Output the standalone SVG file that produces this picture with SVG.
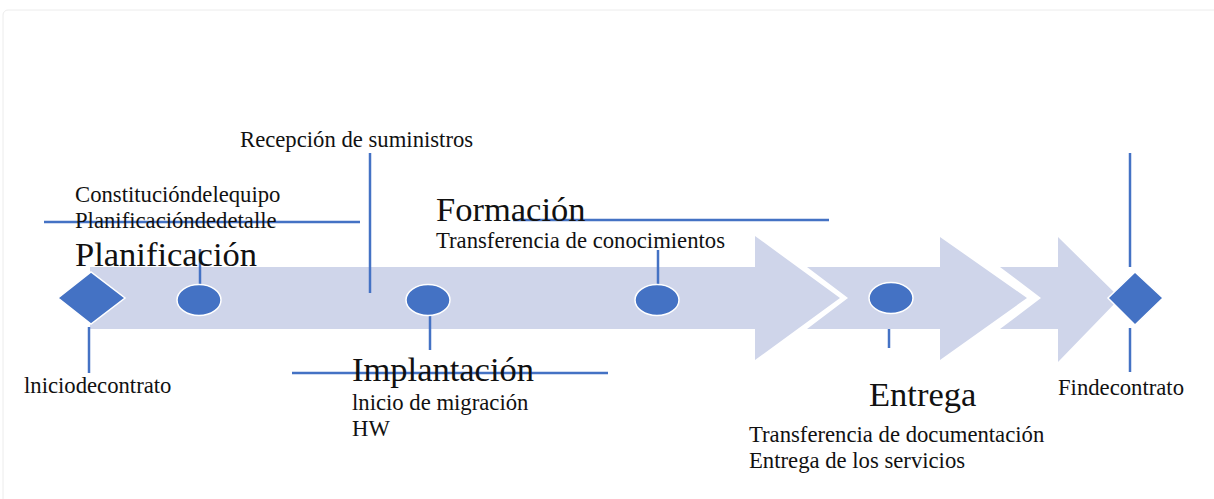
<svg xmlns="http://www.w3.org/2000/svg" width="1214" height="499" viewBox="0 0 1214 499">
<style>
.arrow{fill:#CFD5EA}
.mark{fill:#4472C4;stroke:#ffffff;stroke-width:1.5}
.ln{stroke:#4472C4;stroke-width:2.5;fill:none}
text{font-family:"Liberation Serif","Times New Roman",serif;fill:#111}
.s{font-size:22.7px}
.l{font-size:34.5px}
</style>
<rect x="0" y="0" width="1214" height="499" fill="#ffffff"/>
<rect x="3" y="10" width="1230" height="500" rx="5" fill="none" stroke="#ececec" stroke-width="1"/>
<g id="timeline">
<polygon class="arrow" points="90,267 755,267 755,236 840,298 755,360 755,329 90,329"/>
<polygon class="arrow" points="807,267 940,267 940,237 1027,298 940,360 940,329 807,329 848,298"/>
<polygon class="arrow" points="1000,267 1058,267 1058,237 1120,298 1058,362 1058,329 1000,329 1041,298"/>
</g>
<g id="connectors">
<line class="ln" x1="89" y1="327" x2="89" y2="373"/>
<line class="ln" x1="200" y1="249" x2="200" y2="286"/>
<line class="ln" x1="44" y1="222" x2="360" y2="222"/>
<line class="ln" x1="370" y1="153" x2="370" y2="293"/>
<line class="ln" x1="430" y1="315" x2="430" y2="350"/>
<line class="ln" x1="292" y1="373" x2="608" y2="373"/>
<line class="ln" x1="513" y1="220" x2="829" y2="220"/>
<line class="ln" x1="658" y1="250" x2="658" y2="287"/>
<line class="ln" x1="889" y1="329" x2="889" y2="348"/>
<line class="ln" x1="1130" y1="153" x2="1130" y2="267"/>
<line class="ln" x1="1130" y1="328" x2="1130" y2="372"/>
</g>
<g id="inicio">
<polygon class="mark" points="58,298 91,272 125,298 91,324"/>
<text class="s" x="24" y="393">lniciodecontrato</text>
</g>
<g id="planificacion">
<ellipse class="mark" cx="199" cy="300" rx="22" ry="15.5"/>
<text class="s" x="75" y="202">Constitucióndelequipo</text>
<text class="s" x="75" y="228">Planificacióndedetalle</text>
<text class="l" x="75" y="266">Planificación</text>
</g>
<g id="recepcion">
<text class="s" x="240" y="147">Recepción de suministros</text>
</g>
<g id="implantacion">
<ellipse class="mark" cx="428" cy="300" rx="22" ry="15.5"/>
<text class="l" x="352" y="381">Implantación</text>
<text class="s" x="352" y="410">lnicio de migración</text>
<text class="s" x="352" y="436">HW</text>
</g>
<g id="formacion">
<ellipse class="mark" cx="657" cy="300" rx="22" ry="15.5"/>
<text class="l" x="436" y="221">Formación</text>
<text class="s" x="436" y="248">Transferencia de conocimientos</text>
</g>
<g id="entrega">
<ellipse class="mark" cx="891" cy="298" rx="22" ry="15.5"/>
<text class="l" x="869" y="406">Entrega</text>
<text class="s" x="749" y="442">Transferencia de documentación</text>
<text class="s" x="749" y="468">Entrega de los servicios</text>
</g>
<g id="fin">
<polygon class="mark" points="1108,298 1135,272 1163,298 1135,325"/>
<text class="s" x="1058" y="395">Findecontrato</text>
</g>
</svg>
